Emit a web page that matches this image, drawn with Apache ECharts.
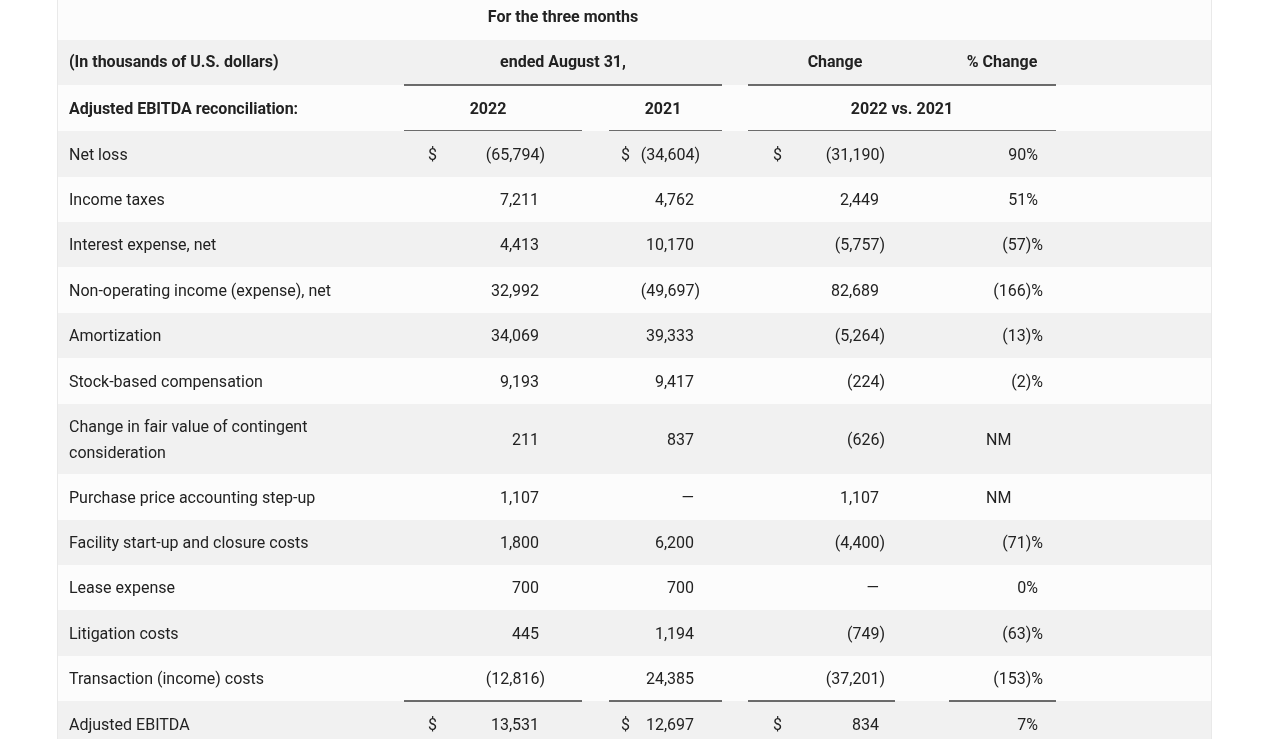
<!DOCTYPE html>
<html>
<head>
<meta charset="utf-8">
<script src="https://cdn.jsdelivr.net/npm/echarts@6/dist/echarts.min.js"></script>
<style>
  html, body { margin: 0; padding: 0; background: #fff; }
  #chart { width: 1280px; height: 739px; }
</style>
</head>
<body>
<div id="chart"></div>
<script>
// table content
const headerTop = 'For the three months';
const headerRow1 = ['(In thousands of U.S. dollars)', 'ended August 31,', 'Change', '% Change'];
const headerRow2 = ['Adjusted EBITDA reconciliation:', '2022', '2021', '2022 vs. 2021'];
const rowLabels = [
  'Net loss',
  'Income taxes',
  'Interest expense, net',
  'Non-operating income (expense), net',
  'Amortization',
  'Stock-based compensation',
  'Change in fair value of contingent\nconsideration',
  'Purchase price accounting step-up',
  'Facility start-up and closure costs',
  'Lease expense',
  'Litigation costs',
  'Transaction (income) costs',
  'Adjusted EBITDA'
];
const values2022 = [-65794, 7211, 4413, 32992, 34069, 9193, 211, 1107, 1800, 700, 445, -12816, 13531];
const values2021 = [-34604, 4762, 10170, -49697, 39333, 9417, 837, null, 6200, 700, 1194, 24385, 12697];
const changeValues = [-31190, 2449, -5757, 82689, -5264, -224, -626, 1107, -4400, 0, -749, -37201, 834];
const pctChange = [90, 51, -57, -166, -13, -2, null, null, -71, 0, -63, -153, 7];
const dollarRows = [0, 12];

// layout (pixels)
const tableLeft = 58, tableRight = 1211;
const headerBands = [[0, 40], [40, 85], [85, 131]];
const rowHeights = [46, 45, 45, 46, 45, 46, 70, 46, 45, 45, 46, 45, 46];
const labelX = 69;
const dollarX = [428, 621, 773];
const numRight = [539, 694, 879];
const pctRight = 1038;
const nmLeft = 986;
const headerCenters1 = [563, 835, 1002];
const headerCenters2 = [488, 663, 902];
const textDrop = 1.5;
const ruleColor = '#3c3c3c';
const grayBg = '#f1f1f1';
const whiteBg = '#fcfcfc';
const borderColor = '#e9e9e9';
const textColor = '#222';
const fontFamily = 'Roboto, "Liberation Sans", sans-serif';
const bodyFont = '16px ' + fontFamily;
const boldFont = 'bold 16px ' + fontFamily;

const rowTops = [];
let acc = headerBands[2][1];
rowHeights.forEach(h => { rowTops.push(acc); acc += h; });

function fmtNum(v) {
  if (v === null || v === 0) return '\u2014';
  const s = Math.abs(v).toLocaleString('en-US');
  return v < 0 ? '(' + s + ')' : s;
}
function fmtPct(v) {
  if (v === null) return 'NM';
  return v < 0 ? '(' + Math.abs(v) + ')%' : v + '%';
}

function txt(api, x, y, text, align, font) {
  const p = api.coord([x, y + textDrop]);
  return {
    type: 'text',
    x: p[0], y: p[1],
    style: {
      text: text,
      font: font || bodyFont,
      fill: textColor,
      textFill: textColor,
      align: align || 'left',
      textAlign: align || 'left',
      verticalAlign: 'middle',
      textVerticalAlign: 'middle',
      lineHeight: 26
    }
  };
}
function rule(api, x1, x2, y) {
  const a = api.coord([x1, y]);
  const b = api.coord([x2, y]);
  return {
    type: 'line',
    shape: { x1: a[0], y1: a[1], x2: b[0], y2: b[1] },
    style: { stroke: ruleColor, lineWidth: 1.5 }
  };
}
function band(api, top, bottom, color) {
  const a = api.coord([tableLeft, top]);
  const b = api.coord([tableRight, bottom]);
  return [
    { type: 'rect', shape: { x: a[0], y: a[1], width: b[0] - a[0], height: b[1] - a[1] }, style: { fill: color } },
    { type: 'line', shape: { x1: a[0] - 0.5, y1: a[1], x2: a[0] - 0.5, y2: b[1] }, style: { stroke: borderColor, lineWidth: 1 } },
    { type: 'line', shape: { x1: b[0] + 0.5, y1: a[1], x2: b[0] + 0.5, y2: b[1] }, style: { stroke: borderColor, lineWidth: 1 } }
  ];
}

function renderHeader(params, api) {
  const i = api.value(0);
  const top = headerBands[i][0], bottom = headerBands[i][1];
  const children = band(api, top, bottom, i === 1 ? grayBg : whiteBg);
  if (i === 0) {
    children.push(txt(api, headerCenters1[0], 16, headerTop, 'center', boldFont));
  } else if (i === 1) {
    const cy = (top + bottom) / 2 - 1;
    children.push(txt(api, labelX, cy, headerRow1[0], 'left', boldFont));
    headerCenters1.forEach((cx, k) => children.push(txt(api, cx, cy, headerRow1[k + 1], 'center', boldFont)));
  } else {
    const cy = (top + bottom) / 2;
    children.push(txt(api, labelX, cy, headerRow2[0], 'left', boldFont));
    headerCenters2.forEach((cx, k) => children.push(txt(api, cx, cy, headerRow2[k + 1], 'center', boldFont)));
    children.push(rule(api, 404, 722, top));
    children.push(rule(api, 748, 1056, top));
    children.push(rule(api, 404, 582, bottom));
    children.push(rule(api, 609, 722, bottom));
    children.push(rule(api, 748, 1056, bottom));
  }
  return { type: 'group', children: children };
}

function renderRow(params, api) {
  const i = api.value(0);
  const top = rowTops[i], bottom = top + rowHeights[i];
  const cy = (top + bottom) / 2;
  const children = band(api, top, bottom, i % 2 === 0 ? grayBg : whiteBg);
  children.push(txt(api, labelX, cy, rowLabels[i], 'left'));
  const cols = [values2022[i], values2021[i], changeValues[i]];
  cols.forEach((v, k) => {
    const hang = v !== null && v < 0 ? 6 : 0;
    children.push(txt(api, numRight[k] + hang, cy, fmtNum(v), 'right'));
    if (dollarRows.indexOf(i) >= 0) children.push(txt(api, dollarX[k], cy, '$', 'left'));
  });
  const pv = pctChange[i];
  if (pv === null) {
    children.push(txt(api, nmLeft, cy, 'NM', 'left'));
  } else {
    children.push(txt(api, pctRight + (pv < 0 ? 5 : 0), cy, fmtPct(pv), 'right'));
  }
  if (i === rowLabels.length - 1) {
    children.push(rule(api, 404, 582, top));
    children.push(rule(api, 609, 722, top));
    children.push(rule(api, 748, 895, top));
    children.push(rule(api, 949, 1056, top));
  }
  return { type: 'group', children: children };
}

const chart = echarts.init(document.getElementById('chart'));
const hiddenAxis = { show: false, axisLine: { show: false }, axisTick: { show: false }, axisLabel: { show: false }, splitLine: { show: false } };
chart.setOption({
  animation: false,
  backgroundColor: '#fff',
  grid: { left: 0, right: 0, top: 0, bottom: 0 },
  xAxis: Object.assign({ type: 'value', min: 0, max: 1280 }, hiddenAxis),
  yAxis: Object.assign({ type: 'value', min: 0, max: 739, inverse: true }, hiddenAxis),
  series: [
    {
      type: 'custom',
      name: 'header',
      renderItem: renderHeader,
      clip: false,
      silent: true,
      data: headerBands.map((b, i) => [i])
    },
    {
      type: 'custom',
      name: 'rows',
      renderItem: renderRow,
      clip: false,
      silent: true,
      data: rowLabels.map((l, i) => [i])
    }
  ]
});
</script>
</body>
</html>
